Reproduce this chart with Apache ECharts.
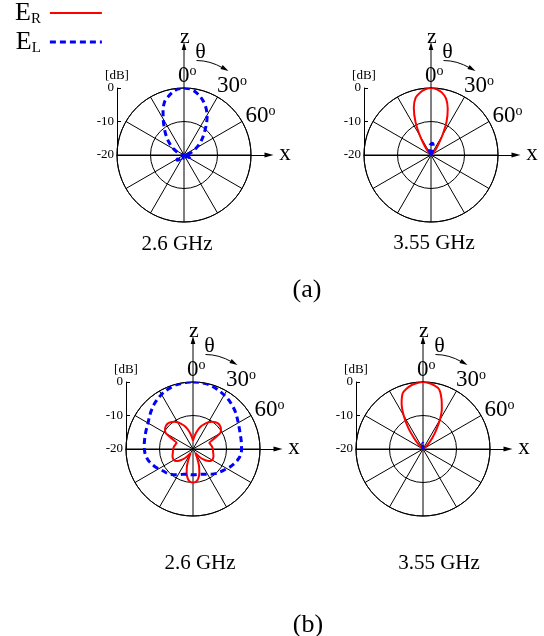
<!DOCTYPE html>
<html><head><meta charset="utf-8">
<script src="https://cdn.jsdelivr.net/npm/echarts@6/dist/echarts.min.js"></script>
<style>html,body{margin:0;padding:0;background:#fff}#c{width:544px;height:636px}</style>
</head><body><div id="c"></div>
<script>
// ---- data (theta in degrees, clockwise from z; values in dB) ----
const THETA_FULL = [0,5,10,15,20,25,30,35,40,45,50,55,60,65,70,75,80,85,90,95,100,105,110,115,120,125,130,135,140,145,150,155,160,165,170,175,180,185,190,195,200,205,210,215,220,225,230,235,240,245,250,255,260,265,270,275,280,285,290,295,300,305,310,315,320,325,330,335,340,345,350,355];
const THETA_LOBE = [300,305,310,315,320,325,330,335,340,345,350,355,0,5,10,15,20,25,30,35,40,45,50,55,60];

// (a) 2.6 GHz
const EL_A26 = [0,-0.2,-0.8,-1.8,-3.0,-4.5,-6.2,-8.2,-10.2,-11.8,-13.2,-14.5,-15.7,-16.7,-17.6,-18.4,-19.1,-19.6,-20,-20,-20,-20,-19.5,-18.5,-18,-17.8,-18.2,-19,-20,-20,-20,-19.5,-19,-18.8,-19,-19.3,-19.5,
  -19.3,-19,-19,-19.2,-19.6,-20,-20,-19.3,-18.4,-17.6,-17.4,-18,-18.6,-19.6,-20,-20,-20,-20,-20,-19.8,-19.2,-18.4,-17.5,-16.5,-15.4,-14.2,-12.8,-11.3,-9.6,-7.6,-5.2,-3.1,-1.9,-0.9,-0.2];
// (a) 3.55 GHz
const ER_A355 = [-20,-20,-20,-19.6,-18.6,-16.8,-13.5,-9.0,-5.0,-2.3,-1.1,-0.3,0,-0.3,-1.1,-2.6,-5.4,-9.0,-13.2,-16.2,-17.9,-19.2,-20,-20,-20];
const EL_A355 = [-20,-20,-20,-20,-20,-20,-20,-20,-19.2,-18.2,-17.4,-17.0,-16.8,-16.5,-16.6,-17.5,-18.8,-20,-20,-20,-20,-20,-20,-20,-20];
// (b) 2.6 GHz
const ER_B26 = [-17.5,-16.5,-15.2,-13.9,-12.7,-11.7,-10.8,-10.1,-9.6,-9.3,-9.4,-9.8,-10.7,-13.5,-14.8,-14.6,-14.4,-14.2,-14.1,-14.0,-13.9,-13.7,-13.5,-13.4,-13.4,-13.7,-14.5,-15.6,-16.8,-18.0,-18.6,-17.2,-14.8,-12.7,-11.0,-10.2,-10.0,
  -10.2,-11.0,-12.7,-14.8,-17.2,-18.6,-18.0,-16.8,-15.6,-14.5,-13.7,-13.4,-13.4,-13.5,-13.7,-13.9,-14.0,-14.1,-14.2,-14.4,-14.6,-14.8,-13.5,-10.7,-9.8,-9.4,-9.3,-9.6,-10.1,-10.8,-11.7,-12.7,-13.9,-15.2,-16.5];
const EL_B26 = [0,0,-0.1,-0.3,-0.6,-1.0,-1.4,-1.8,-2.3,-2.8,-3.3,-3.9,-4.4,-4.8,-5.1,-5.3,-5.4,-5.5,-5.5,-5.6,-5.9,-6.4,-7.0,-7.6,-8.3,-8.9,-9.4,-9.8,-10.3,-10.8,-11.3,-11.7,-12.0,-12.2,-12.3,-12.3,-12.3,
  -12.3,-12.3,-12.2,-12.0,-11.6,-11.1,-10.6,-10.1,-9.6,-9.2,-8.8,-8.2,-7.5,-6.9,-6.3,-5.9,-5.6,-5.5,-5.4,-5.3,-5.2,-5.0,-4.8,-4.5,-4.0,-3.4,-2.8,-2.2,-1.7,-1.2,-0.8,-0.5,-0.2,-0.1,0];
// (b) 3.55 GHz
const ER_B355 = [-20,-20,-19.5,-18.3,-16.1,-12.4,-8.5,-4.9,-2.3,-1.3,-0.6,-0.2,0,-0.2,-0.7,-1.5,-3.9,-6.7,-9.9,-13.2,-15.7,-17.6,-18.8,-19.6,-20];
const EL_B355 = [-20,-20,-20,-20,-20,-20,-20,-20,-20,-20,-19.6,-18.8,-18.3,-18.6,-19.5,-20,-20,-20,-20,-20,-20,-20,-20,-20,-20];

const PANEL_TITLES = ['2.6 GHz','3.55 GHz','2.6 GHz','3.55 GHz'];
const GROUP_LABELS = ['(a)','(b)'];
const ANGLE_LABELS = ['0','30','60'];
const DB_MIN = -20, DB_MAX = 0, DB_STEP = 10;

// ---- layout ----
const SERIF = "'Liberation Serif', 'Times New Roman', serif";
const PANELS = [{cx:184,cy:155},{cx:431,cy:155},{cx:193,cy:449},{cx:423,cy:449}];
const R = 67;
const TITLE_POS = [[177,244],[434,243],[200,563],[439,563]];
const GROUP_POS = [[307,290],[308,625]];
const ANGLE_OFF = [[-6,-79],[33,-69],[61.5,-39.5]];

function pairs(th, db, closed){
  const d = th.map((t,i)=>[db[i], t]);
  if (closed) d.push([db[0], th[0]]);
  return d;
}
const STYLE = {
  ER: {color:'#ff0000', width:2, type:'solid'},
  EL: {color:'#0000ff', width:3, type:[6,4]}
};
const SERIES_DEF = [
  {p:0, name:'EL', th:THETA_FULL, db:EL_A26, closed:true},
  {p:1, name:'ER', th:THETA_LOBE, db:ER_A355},
  {p:1, name:'EL', th:THETA_LOBE, db:EL_A355},
  {p:2, name:'ER', th:THETA_FULL, db:ER_B26, closed:true},
  {p:2, name:'EL', th:THETA_FULL, db:EL_B26, closed:true},
  {p:3, name:'ER', th:THETA_LOBE, db:ER_B355},
  {p:3, name:'EL', th:THETA_LOBE, db:EL_B355}
];

function arrowHead(tx, ty, dx, dy, len, half){
  const n = Math.hypot(dx,dy), ux = dx/n, uy = dy/n;
  const bx = tx-ux*len, by = ty-uy*len;
  return [[tx,ty],[bx-uy*half, by+ux*half],[bx+uy*half, by-ux*half]];
}

const graphics = [];
PANELS.forEach(({cx,cy})=>{
  graphics.push({type:'line', shape:{x1:cx,y1:cy-R,x2:cx,y2:cy-106}, style:{stroke:'#000',lineWidth:1}});
  graphics.push({type:'polygon', shape:{points:arrowHead(cx,cy-113,0,-1,8,2.3)}, style:{fill:'#000'}});
  graphics.push({type:'text', x:cx+1, y:cy-118, style:{text:'z', fontSize:22, fontFamily:SERIF, fill:'#000', align:'center', verticalAlign:'middle'}});
  graphics.push({type:'text', x:cx+101, y:cy-1, style:{text:'x', fontSize:23, fontFamily:SERIF, fill:'#000', align:'center', verticalAlign:'middle'}});
  graphics.push({type:'text', x:cx+16.5, y:cy-103, style:{text:'θ', fontSize:22, fontFamily:SERIF, fill:'#000', align:'center', verticalAlign:'middle'}});
  graphics.push({type:'bezierCurve', shape:{x1:cx+12.5,y1:cy-94.5,cpx1:cx+26,cpy1:cy-94.5,x2:cx+39,y2:cy-87}, style:{stroke:'#000',lineWidth:1,fill:'none'}});
  graphics.push({type:'polygon', shape:{points:arrowHead(cx+44.5,cy-84,13,7.5,8,2.2)}, style:{fill:'#000'}});
  ANGLE_LABELS.forEach((t,i)=>{
    graphics.push({type:'text', x:cx+ANGLE_OFF[i][0], y:cy+ANGLE_OFF[i][1], style:{
      text:'{n|'+t+'}{s|o}', align:'left', verticalAlign:'middle', fill:'#000',
      rich:{n:{fontSize:23, fontFamily:SERIF, fill:'#000', lineHeight:23},
            s:{fontSize:14, fontFamily:SERIF, fill:'#000', verticalAlign:'top', lineHeight:14}}}});
  });
});

const titles = PANEL_TITLES.map((t,i)=>({text:t, left:TITLE_POS[i][0], top:TITLE_POS[i][1], textAlign:'center', textVerticalAlign:'middle', padding:0,
  textStyle:{fontSize:21, fontFamily:SERIF, fontWeight:'normal', color:'#000'}}))
  .concat(GROUP_LABELS.map((t,i)=>({text:t, left:GROUP_POS[i][0], top:GROUP_POS[i][1], textAlign:'center', textVerticalAlign:'middle', padding:0,
  textStyle:{fontSize:26, fontFamily:SERIF, fontWeight:'normal', color:'#000'}})));

const option = {
  animation:false,
  backgroundColor:'#fff',
  title: titles,
  legend: {
    orient:'vertical', left:15, top:0, padding:0, align:'right',
    itemWidth:52, itemHeight:14, itemGap:2,
    data:['ER','EL'],
    itemStyle:{opacity:0},
    lineStyle:{width:'inherit'},
    formatter: n => '{e|E}{s|' + n.slice(1) + '}',
    textStyle:{color:'#000', rich:{
      e:{fontSize:26, fontFamily:SERIF, color:'#000', lineHeight:28},
      s:{fontSize:15, fontFamily:SERIF, color:'#000', verticalAlign:'bottom', lineHeight:22, padding:[0,4,0,0]}
    }}
  },
  polar: PANELS.map(p=>({center:[p.cx,p.cy], radius:R})),
  angleAxis: PANELS.map((p,i)=>({polarIndex:i, type:'value', min:0, max:360, interval:30, startAngle:90, clockwise:true,
    axisLine:{show:true, lineStyle:{color:'#000', width:1}}, axisTick:{show:false}, axisLabel:{show:false},
    splitLine:{show:true, lineStyle:{color:'#000', width:1}}})),
  radiusAxis: PANELS.map((p,i)=>({polarIndex:i, type:'value', min:DB_MIN, max:DB_MAX, interval:DB_STEP,
    axisLine:{show:false}, axisTick:{show:false}, axisLabel:{show:false},
    splitLine:{show:true, lineStyle:{color:'#000', width:1}}})),
  grid: PANELS.map(p=>({left:p.cx-R, top:p.cy-R, width:R+85, height:R, containLabel:false, outerBoundsMode:'none'})),
  xAxis: PANELS.map((p,i)=>({gridIndex:i, type:'value', min:0, max:1,
    axisLine:{show:true, onZero:false, symbol:['none','triangle'], symbolSize:[5,9], lineStyle:{color:'#000', width:1}},
    axisTick:{show:false}, axisLabel:{show:false}, splitLine:{show:false}})),
  yAxis: PANELS.map((p,i)=>({gridIndex:i, type:'value', min:DB_MIN, max:DB_MAX, interval:DB_STEP,
    axisLine:{show:true, onZero:false, lineStyle:{color:'#000', width:1}},
    axisTick:{show:true, inside:true, length:4, lineStyle:{color:'#000'}},
    axisLabel:{color:'#000', fontSize:13, fontFamily:SERIF, margin:3},
    splitLine:{show:false},
    name:'[dB]', nameLocation:'end', nameGap:6,
    nameTextStyle:{color:'#000', fontSize:13, fontFamily:SERIF}})),
  graphic: graphics,
  series: SERIES_DEF.map(s=>({
    type:'line', name:s.name, coordinateSystem:'polar', polarIndex:s.p,
    data: pairs(s.th, s.db, s.closed), symbol:'none', showSymbol:false, smooth:0.3,
    lineStyle:{color:STYLE[s.name].color, width:STYLE[s.name].width, type:STYLE[s.name].type},
    itemStyle:{color:STYLE[s.name].color}, silent:true
  }))
};
const chart = echarts.init(document.getElementById('c'), null, {renderer:'canvas'});
chart.setOption(option);
</script>
</body></html>
